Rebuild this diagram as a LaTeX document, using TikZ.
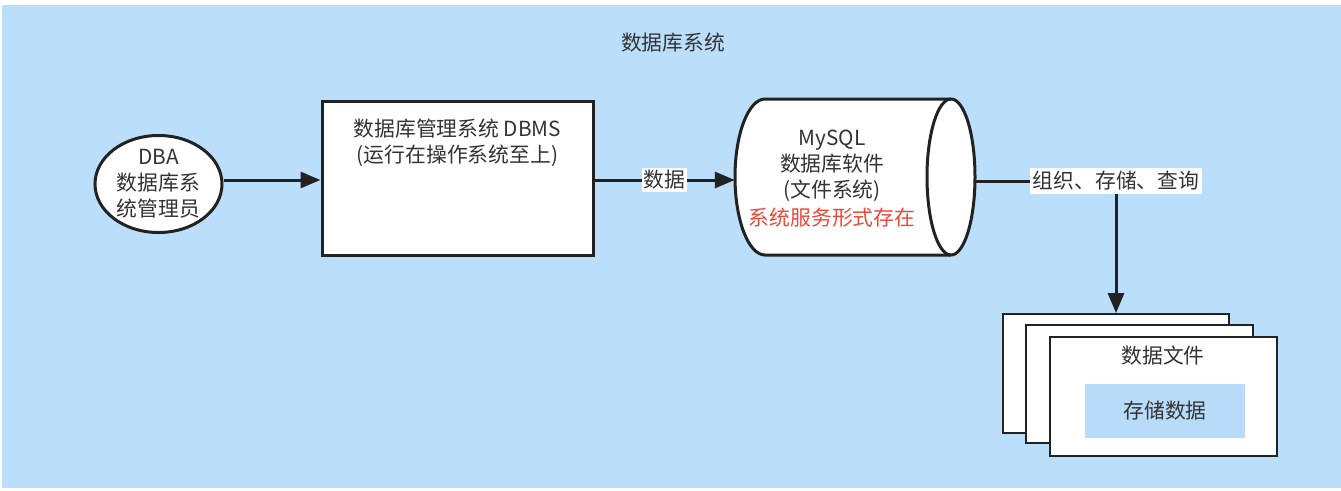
\documentclass[tikz,border=0pt]{standalone}
\usepackage{fontspec}
\setmainfont{Noto Sans CJK SC}
\usetikzlibrary{arrows.meta,shapes.geometric}
\definecolor{bgblue}{RGB}{187,222,251}
\definecolor{inblue}{RGB}{184,219,249}
\definecolor{txt}{RGB}{51,51,51}
\definecolor{edge}{RGB}{34,34,34}
\definecolor{redtxt}{RGB}{238,72,58}
\begin{document}
\begin{tikzpicture}[x=1pt,y=1pt,
  every node/.style={font=\fontsize{20.8}{25.8}\selectfont, text=txt},
  thick line/.style={draw=edge, line width=3pt},
  conn/.style={thick line, -{Triangle[length=20pt,width=16pt]}},
  doc/.style={draw=edge, line width=1.8pt, fill=white},
  lbl/.style={fill=white, inner sep=2pt}]
\useasboundingbox (0,0) rectangle (1341,-490);
\fill[white] (0,0) rectangle (1341,-490);
\fill[bgblue] (2,-5) rectangle (1341,-488);
% title
\node (title) at (673,-43) {数据库系统};
% DBA ellipse
\node[ellipse, thick line, fill=white, minimum width=127pt, minimum height=88pt, inner sep=0pt, align=center] (dba) at (158.5,-184) {DBA\\数据库系\\统管理员};
% DBMS box
\node[rectangle, thick line, fill=white, minimum width=271pt, minimum height=154pt, inner sep=0pt] (dbms) at (457.5,-178) {};
\node[align=center, inner sep=0pt] (dbmstext) at (457.5,-142.5) {数据库管理系统 DBMS\\(运行在操作系统至上)};
% cylinder
\draw[thick line, fill=white] (765,-99) -- (951,-99)
  arc[start angle=90, end angle=-90, x radius=24, y radius=78]
  -- (765,-255)
  arc[start angle=270, end angle=90, x radius=30, y radius=78] -- cycle;
\draw[thick line] (951,-99) arc[start angle=90, end angle=270, x radius=24, y radius=78];
\node[minimum width=240pt, minimum height=156pt, inner sep=0pt] (cyl) at (855,-177) {};
\node[align=center, inner sep=0pt] (cyltext) at (832,-166) {MySQL\\数据库软件\\(文件系统)};
\node[inner sep=0pt, text=redtxt] (cylred) at (832,-218) {系统服务形式存在};
% documents
\node[doc, minimum width=226pt, minimum height=119pt, inner sep=0pt] (back) at (1116,-373.5) {};
\node[doc, minimum width=227pt, minimum height=118pt, inner sep=0pt] (mid) at (1139.5,-384) {};
\node[doc, minimum width=227pt, minimum height=119pt, inner sep=0pt] (front) at (1163.5,-396.5) {};
\node[inner sep=0pt] (doctitle) at (1163,-356) {数据文件};
\node[fill=inblue, minimum width=160pt, minimum height=54pt, inner sep=0pt] (store) at (1165,-411) {存储数据};
% connectors
\draw[conn] (dba.east |- 0,-180) -- (dbms.west |- 0,-180);
\draw[conn] (dbms.east |- 0,-180) -- node[lbl, pos=0.5] (l1) {数据} (cyl.west |- 0,-180);
\coordinate (cylR) at (975,-181);
\draw[conn] (cylR) -| node[lbl, pos=0.5, inner sep=3pt] (l2) {组织、存储、查询} (back.north);
\end{tikzpicture}
\end{document}
